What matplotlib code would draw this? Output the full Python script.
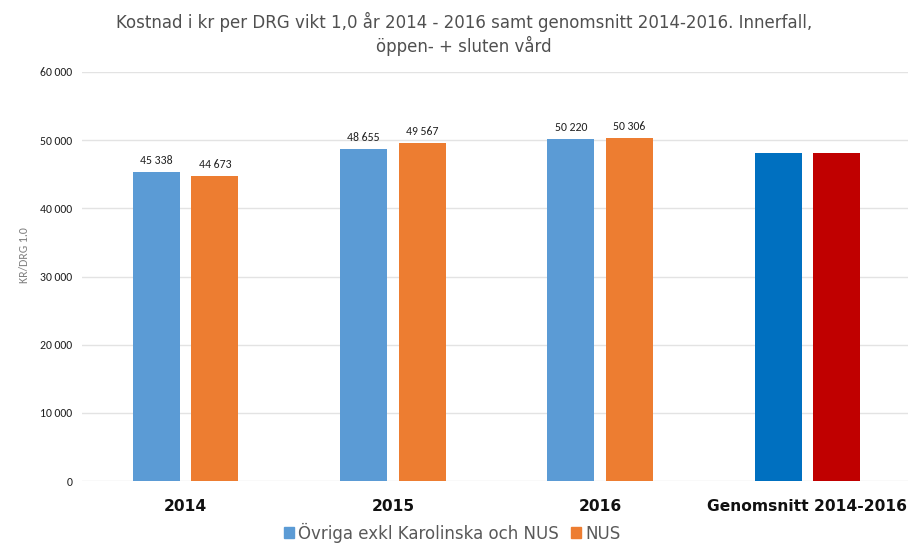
import matplotlib.pyplot as plt
from matplotlib.patches import Patch
import numpy as np

categories = ['2014', '2015', '2016', 'Genomsnitt 2014-2016']
ovriga = [45338, 48655, 50220]
nus = [44673, 49567, 50306]
avg_ovriga = np.mean(ovriga)
avg_nus = np.mean(nus)

c_blue = '#5B9BD5'
c_orange = '#ED7D31'
c_avg_blue = '#0070C0'
c_avg_red = '#C00000'

calibri = ['Carlito', 'Open Sans', 'DejaVu Sans']
plt.rcParams['font.family'] = ['DejaVu Sans']

fig = plt.figure(figsize=(9.08, 5.44), dpi=100)
ax = fig.add_axes([82 / 908, 63 / 544, 826 / 908, 409 / 544])

x = np.arange(len(categories))
w = 0.227
off = 0.141

b1 = ax.bar(x[:3] - off, ovriga, w, color=c_blue, zorder=3)
b2 = ax.bar(x[:3] + off, nus, w, color=c_orange, zorder=3)
ax.bar(x[3] - off, avg_ovriga, w, color=c_avg_blue, zorder=3)
ax.bar(x[3] + off, avg_nus, w, color=c_avg_red, zorder=3)

def fmt(v):
    return f'{v:,.0f}'.replace(',', ' ')

for bars, vals in [(b1, ovriga), (b2, nus)]:
    for b, v in zip(bars, vals):
        ax.text(b.get_x() + b.get_width() / 2, v + 900, fmt(v), ha='center',
                va='bottom', fontsize=8.5, color='#222222', family=calibri)

ax.set_xlim(-0.5, 3.485)
ax.set_ylim(0, 60000)
ax.set_yticks(range(0, 60001, 10000))
ax.set_yticklabels([fmt(v) for v in range(0, 60001, 10000)], fontsize=8.5,
                   color='#222222', family=calibri)
ax.set_xticks(x)
ax.set_xticklabels(categories, fontsize=11.2, fontweight='bold', color='#111111')
ax.tick_params(axis='both', length=0)
ax.tick_params(axis='x', pad=13)
ax.tick_params(axis='y', pad=7)
ax.grid(axis='y', color='#E3E3E3', linewidth=1, zorder=0)
for s in ax.spines.values():
    s.set_visible(False)

fig.text(24 / 908, 1 - 255 / 544, 'KR/DRG 1.0', rotation=90, ha='center', va='center',
         fontsize=8.5, color='#808080', family=calibri)

fig.text(0.511, 1 - 28 / 544, 'Kostnad i kr per DRG vikt 1,0 år 2014 - 2016 samt genomsnitt 2014-2016. Innerfall,',
         ha='center', va='baseline', fontsize=12, color='#505050')
fig.text(0.511, 1 - 52 / 544, 'öppen- + sluten vård',
         ha='center', va='baseline', fontsize=12, color='#505050')

handles = [Patch(color=c_blue), Patch(color=c_orange)]
fig.legend(handles, ['Övriga exkl Karolinska och NUS', 'NUS'], loc='center',
           bbox_to_anchor=(0.498, 0.021), ncol=2, frameon=False, fontsize=12,
           labelcolor='#595959', handlelength=0.6, handleheight=0.6,
           handletextpad=0.25, columnspacing=0.7, borderpad=0.1)

fig.savefig('out.png', dpi=100)
